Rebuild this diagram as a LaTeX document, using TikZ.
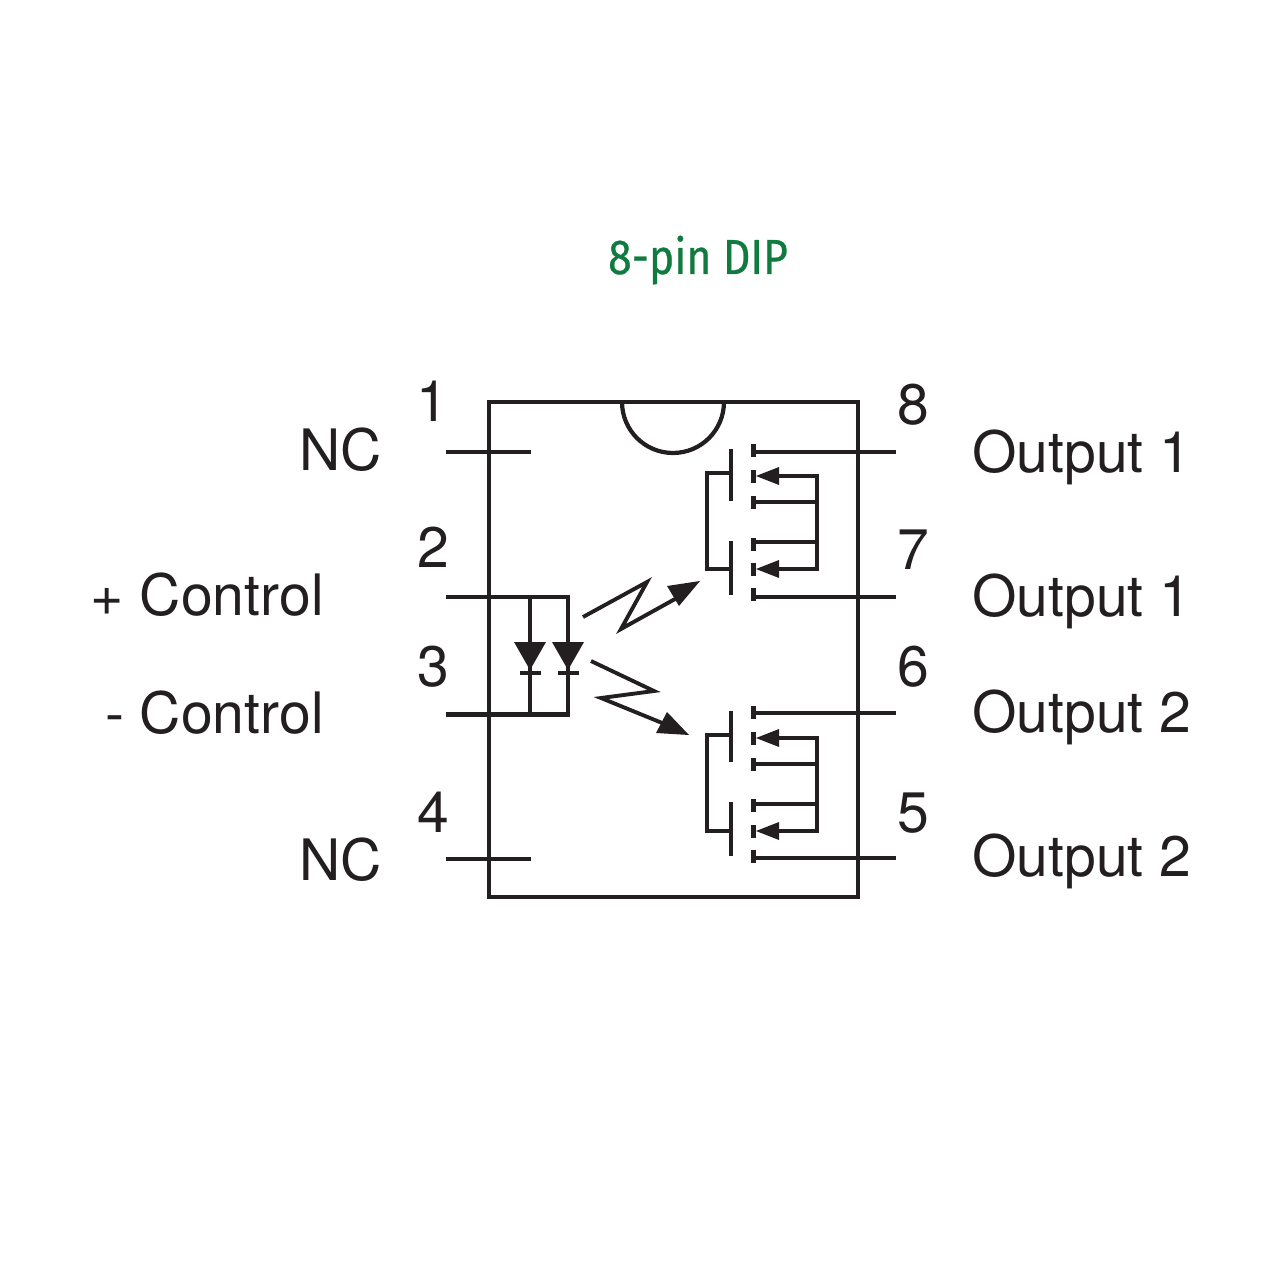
\documentclass[tikz,border=0pt]{standalone}
\usepackage{fontspec}
\setmainfont{TeX Gyre Heros}
\newfontfamily\titlefont[FakeStretch=0.87,FakeBold=0.5]{Fira Sans}
\definecolor{inkc}{HTML}{231F20}
\definecolor{titlec}{HTML}{0F7B3E}
\tikzset{
  wire/.style={draw=inkc,line width=2.4pt,line cap=butt,line join=miter},
  thinwire/.style={draw=inkc,line width=2.2pt,line join=miter},
  solid head/.style={fill=inkc,draw=none},
  lbl/.style={text=inkc,inner sep=0pt,font=\fontsize{32.5pt}{32.5pt}\selectfont},
  bar/.style={fill=inkc,draw=none}
}
\begin{document}
\begin{tikzpicture}[x=0.02cm,y=-0.02cm]
\useasboundingbox (0,0) rectangle (1280,1280);
% title
\node[inner sep=0pt,anchor=base,text=titlec,font=\fontsize{28pt}{28pt}\selectfont\titlefont] (title) at (698,274) {8-pin DIP};
% package
\draw[wire] (489,402) rectangle (858,897);
\draw[wire] (622,402) arc[start angle=180,end angle=360,radius=1.02cm];
% labels
\node[lbl,anchor=base] (n1) at (432,421) {1};
\node[lbl,anchor=base] (n2) at (433,567) {2};
\node[lbl,anchor=base] (n3) at (433,686) {3};
\node[lbl,anchor=base] (n4) at (433,832) {4};
\node[lbl,anchor=base] (n8) at (913,424) {8};
\node[lbl,anchor=base] (n7) at (913,569) {7};
\node[lbl,anchor=base] (n6) at (913,686) {6};
\node[lbl,anchor=base] (n5) at (913,832) {5};
\node[lbl,anchor=base east] (l1) at (382,470) {NC};
\node[lbl,anchor=base east] (l4) at (382,880) {NC};
\node[lbl,anchor=base east] (l2) at (324,615) {+ Control};
\node[lbl,anchor=base east] (l3) at (324,733) {- Control};
\node[lbl,anchor=base west] (r8) at (972,472) {Output 1};
\node[lbl,anchor=base west] (r7) at (972,616) {Output 1};
\node[lbl,anchor=base west] (r6) at (972,732) {Output 2};
\node[lbl,anchor=base west] (r5) at (972,876) {Output 2};
% pin stubs
\coordinate (p1a) at (446,452); \coordinate (p1b) at (531,452);
\coordinate (p4a) at (446,859); \coordinate (p4b) at (531,859);
\draw[wire] (p1a) -- (p1b);
\draw[wire] (p4a) -- (p4b);
% LEDs
\coordinate (p2) at (446,597); \coordinate (p3) at (446,714.5);
\coordinate (d1t) at (530,597); \coordinate (d2t) at (568,597);
\coordinate (d1b) at (530,714.5); \coordinate (d2b) at (568,714.5);
\draw[wire] (p2) -- (d2t) -- (d2b) -- (p3);
\draw[wire] (d1t) -- (d1b);
\fill[solid head] (514,642) -- (546,642) -- (530,670) -- cycle;
\fill[solid head] (552,642) -- (584,642) -- (568,670) -- cycle;
\fill[bar] (520,671) rectangle (541,675);
\fill[bar] (558,671) rectangle (579,675);
% light arrows
\draw[thinwire] (583,617) -- (647,582) -- (621,629) -- (684,594);
\fill[solid head] (700,581) -- (667,586) -- (679,606) -- cycle;
\draw[thinwire] (591,661) -- (654,691) -- (601,698) -- (672,727);
\fill[solid head] (689,735) -- (667,712) -- (656,733) -- cycle;
% MOSFET pair, upper
\coordinate (g1a) at (707,473); \coordinate (g1b) at (707,569);
\draw[wire] (731,473) -- (g1a) -- (g1b) -- (731,569);
\draw[wire] (731,449) -- (731,501);
\draw[wire] (731,541) -- (731,595);
\foreach \y in {450,476,502,544,569,594} \fill[bar] (751,\y-6.5) rectangle (755.5,\y+6.5);
\coordinate (p8) at (896,452); \coordinate (p7) at (896,597);
\draw[wire] (753,452) -- (p8);
\draw[wire] (753,597) -- (p7);
\coordinate (b1t) at (817,476); \coordinate (b1b) at (817,569);
\draw[wire] (775,476) -- (b1t) -- (b1b) -- (775,569);
\draw[wire] (753,502) -- (817,502);
\draw[wire] (753,542) -- (817,542);
\fill[solid head] (756,476) -- (779,467) -- (779,485) -- cycle;
\fill[solid head] (756,569) -- (779,560) -- (779,578) -- cycle;
% MOSFET pair, lower
\coordinate (g2a) at (707,735); \coordinate (g2b) at (707,831);
\draw[wire] (731,735) -- (g2a) -- (g2b) -- (731,831);
\draw[wire] (731,711) -- (731,762);
\draw[wire] (731,802) -- (731,856);
\foreach \y in {712,738,764,805,831,856} \fill[bar] (751,\y-6.5) rectangle (755.5,\y+6.5);
\coordinate (p6) at (896,713); \coordinate (p5) at (896,858);
\draw[wire] (753,713) -- (p6);
\draw[wire] (753,858) -- (p5);
\coordinate (b2t) at (817,738); \coordinate (b2b) at (817,831);
\draw[wire] (775,738) -- (b2t) -- (b2b) -- (775,831);
\draw[wire] (753,764) -- (817,764);
\draw[wire] (753,804) -- (817,804);
\fill[solid head] (756,738) -- (779,729) -- (779,747) -- cycle;
\fill[solid head] (756,831) -- (779,822) -- (779,840) -- cycle;
\end{tikzpicture}
\end{document}
